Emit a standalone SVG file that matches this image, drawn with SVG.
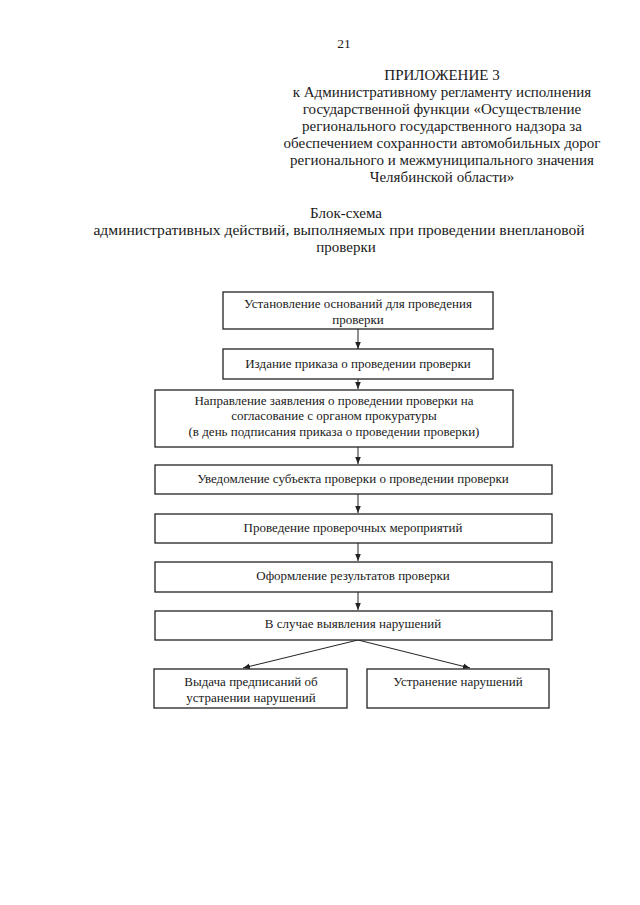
<svg xmlns="http://www.w3.org/2000/svg" width="640" height="905" viewBox="0 0 640 905">
<style>
text{font-family:"Liberation Serif","Times New Roman",serif;fill:#1a1a1a}
.h{font-size:15px;text-anchor:middle}
.b{font-size:13px;text-anchor:middle}
.box{fill:#fff;stroke:#222;stroke-width:1.3}
.c{stroke:#222;stroke-width:1;fill:none;marker-end:url(#a)}
</style>
<defs>
<marker id="a" markerWidth="8" markerHeight="8" refX="7" refY="4" orient="auto" markerUnits="userSpaceOnUse">
<path d="M0,1.2 L7,4 L0,6.8 Z" fill="#222"/>
</marker>
</defs>
<rect width="640" height="905" fill="#fff"/>
<g id="header">
<text x="344" y="48" class="h" style="font-size:13.5px">21</text>
<text x="442" y="80" class="h">ПРИЛОЖЕНИЕ 3</text>
<text x="442" y="97" class="h">к Административному регламенту исполнения</text>
<text x="442" y="114" class="h">государственной функции «Осуществление</text>
<text x="442" y="131" class="h">регионального государственного надзора за</text>
<text x="442" y="148" class="h">обеспечением сохранности автомобильных дорог</text>
<text x="442" y="165" class="h">регионального и межмуниципального значения</text>
<text x="442" y="182" class="h">Челябинской области»</text>
<text x="346" y="218" class="h">Блок-схема</text>
<text x="339" y="235" class="h" style="font-size:15.6px">административных действий, выполняемых при проведении внеплановой</text>
<text x="346" y="252" class="h">проверки</text>
</g>
<g id="connectors">
<line x1="358" y1="329" x2="358" y2="349" class="c"/>
<line x1="358" y1="379" x2="358" y2="389" class="c"/>
<line x1="358" y1="447" x2="358" y2="464" class="c"/>
<line x1="358" y1="494" x2="358" y2="513" class="c"/>
<line x1="358" y1="543" x2="358" y2="561" class="c"/>
<line x1="358" y1="592" x2="358" y2="610" class="c"/>
<line x1="358" y1="640" x2="243" y2="668" class="c"/>
<line x1="358" y1="640" x2="470" y2="668" class="c"/>
</g>
<g id="n1"><rect x="223" y="292" width="270" height="37" class="box"/>
<text x="358" y="308" class="b">Установление оснований для проведения</text>
<text x="358" y="324" class="b">проверки</text></g>
<g id="n2"><rect x="223" y="349" width="270" height="30" class="box"/>
<text x="358" y="368" class="b">Издание приказа о проведении проверки</text></g>
<g id="n3"><rect x="155" y="390" width="358" height="57" class="box"/>
<text x="334" y="405" class="b">Направление заявления о проведении проверки на</text>
<text x="334" y="420" class="b">согласование с органом прокуратуры</text>
<text x="334" y="436" class="b">(в день подписания приказа о проведении проверки)</text></g>
<g id="n4"><rect x="155" y="465" width="397" height="29" class="box"/>
<text x="353" y="483" class="b">Уведомление субъекта проверки о проведении проверки</text></g>
<g id="n5"><rect x="155" y="514" width="397" height="29" class="box"/>
<text x="353" y="532" class="b">Проведение проверочных мероприятий</text></g>
<g id="n6"><rect x="155" y="562" width="397" height="30" class="box"/>
<text x="353" y="580" class="b">Оформление результатов проверки</text></g>
<g id="n7"><rect x="155" y="611" width="397" height="29" class="box"/>
<text x="353" y="628" class="b">В случае выявления нарушений</text></g>
<g id="n8"><rect x="154" y="669" width="193" height="39" class="box"/>
<text x="251" y="686" class="b">Выдача предписаний об</text>
<text x="251" y="702" class="b">устранении нарушений</text></g>
<g id="n9"><rect x="367" y="669" width="182" height="39" class="box"/>
<text x="458" y="686" class="b">Устранение нарушений</text></g>
</svg>
